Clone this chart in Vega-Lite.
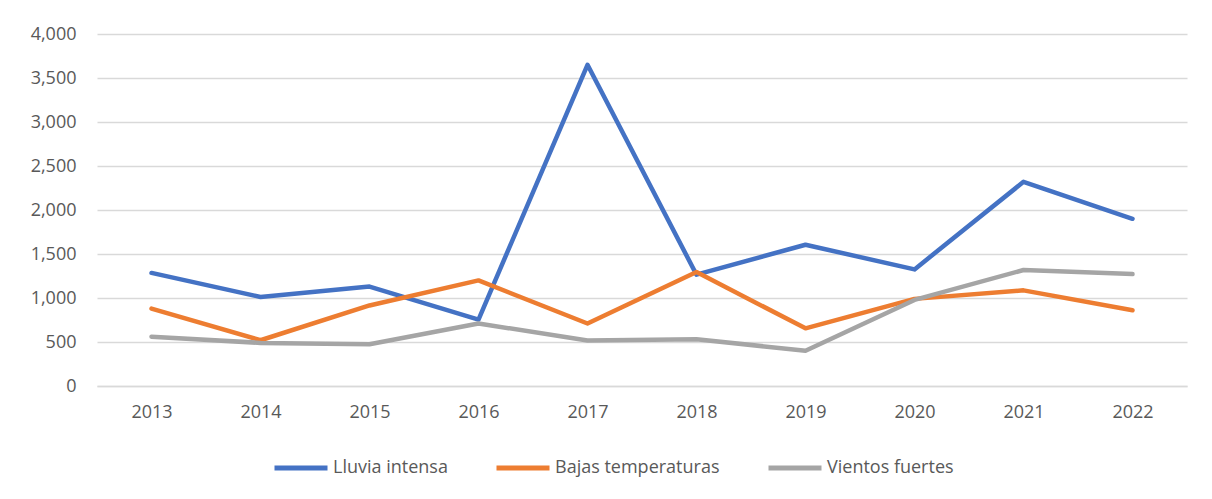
{
  "$schema": "https://vega.github.io/schema/vega-lite/v6.json",
  "width": 1090,
  "height": 352,
  "autosize": {"type": "none"},
  "padding": {"left": 97, "top": 34, "right": 25, "bottom": 113},
  "background": "white",
  "config": {
    "view": {"stroke": null},
    "font": "Open Sans"
  },
  "data": {
    "values": [
      {"year": "2013", "serie": "Lluvia intensa", "value": 1285},
      {"year": "2014", "serie": "Lluvia intensa", "value": 1012},
      {"year": "2015", "serie": "Lluvia intensa", "value": 1130},
      {"year": "2016", "serie": "Lluvia intensa", "value": 755},
      {"year": "2017", "serie": "Lluvia intensa", "value": 3650},
      {"year": "2018", "serie": "Lluvia intensa", "value": 1265},
      {"year": "2019", "serie": "Lluvia intensa", "value": 1605},
      {"year": "2020", "serie": "Lluvia intensa", "value": 1325},
      {"year": "2021", "serie": "Lluvia intensa", "value": 2320},
      {"year": "2022", "serie": "Lluvia intensa", "value": 1900},
      {"year": "2013", "serie": "Bajas temperaturas", "value": 880},
      {"year": "2014", "serie": "Bajas temperaturas", "value": 520},
      {"year": "2015", "serie": "Bajas temperaturas", "value": 915},
      {"year": "2016", "serie": "Bajas temperaturas", "value": 1200},
      {"year": "2017", "serie": "Bajas temperaturas", "value": 710},
      {"year": "2018", "serie": "Bajas temperaturas", "value": 1295},
      {"year": "2019", "serie": "Bajas temperaturas", "value": 655},
      {"year": "2020", "serie": "Bajas temperaturas", "value": 990},
      {"year": "2021", "serie": "Bajas temperaturas", "value": 1087},
      {"year": "2022", "serie": "Bajas temperaturas", "value": 860},
      {"year": "2013", "serie": "Vientos fuertes", "value": 560},
      {"year": "2014", "serie": "Vientos fuertes", "value": 490},
      {"year": "2015", "serie": "Vientos fuertes", "value": 475},
      {"year": "2016", "serie": "Vientos fuertes", "value": 710},
      {"year": "2017", "serie": "Vientos fuertes", "value": 518},
      {"year": "2018", "serie": "Vientos fuertes", "value": 532},
      {"year": "2019", "serie": "Vientos fuertes", "value": 400},
      {"year": "2020", "serie": "Vientos fuertes", "value": 978},
      {"year": "2021", "serie": "Vientos fuertes", "value": 1318},
      {"year": "2022", "serie": "Vientos fuertes", "value": 1272}
    ]
  },
  "mark": {"type": "line", "strokeWidth": 4.5, "strokeCap": "round", "strokeJoin": "round"},
  "encoding": {
    "x": {
      "field": "year",
      "type": "ordinal",
      "title": null,
      "scale": {"type": "point", "padding": 0.5},
      "axis": {
        "labelAngle": 0,
        "labelFontSize": 18,
        "labelColor": "#595959",
        "labelPadding": 17,
        "ticks": false,
        "domainColor": "#d9d9d9",
        "domainWidth": 1.5,
        "grid": false
      }
    },
    "y": {
      "field": "value",
      "type": "quantitative",
      "title": null,
      "scale": {"domain": [0, 4000], "nice": false},
      "axis": {
        "values": [0, 500, 1000, 1500, 2000, 2500, 3000, 3500, 4000],
        "format": ",.0f",
        "labelFontSize": 18,
        "labelColor": "#595959",
        "labelPadding": 21,
        "ticks": false,
        "domain": false,
        "gridColor": "#d9d9d9",
        "gridWidth": 1.5
      }
    },
    "color": {
      "field": "serie",
      "type": "nominal",
      "title": null,
      "scale": {
        "domain": ["Lluvia intensa", "Bajas temperaturas", "Vientos fuertes"],
        "range": ["#4472C4", "#ED7D31", "#A5A5A5"]
      },
      "legend": {
        "orient": "none",
        "legendX": 175,
        "legendY": 405,
        "direction": "horizontal",
        "symbolType": "stroke",
        "symbolStrokeWidth": 5,
        "symbolSize": 2809,
        "labelFontSize": 18,
        "labelLimit": 400,
        "labelColor": "#595959",
        "columnPadding": 38,
        "labelOffset": 3
      }
    }
  }
}
